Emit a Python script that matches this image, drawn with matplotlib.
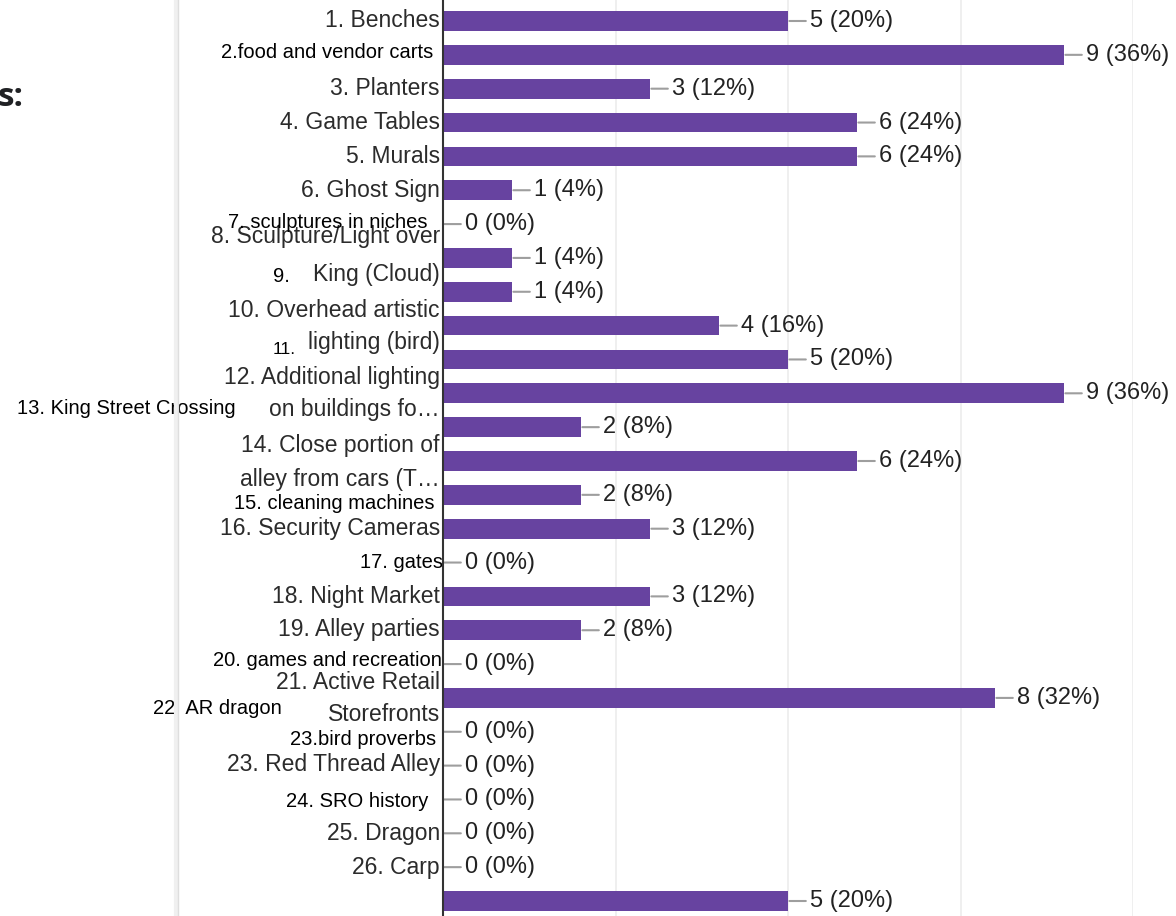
import matplotlib
matplotlib.use("Agg")
import matplotlib.pyplot as plt
from matplotlib.lines import Line2D
from matplotlib.transforms import blended_transform_factory

plt.rcParams['font.family'] = ['Liberation Sans', 'DejaVu Sans']

# responses per option (27 bars, top to bottom)
counts = [5, 9, 3, 6, 6, 1, 0, 1, 1, 4, 5, 9, 2, 6, 2, 3, 0, 3, 2, 0, 8, 0, 0, 0, 0, 0, 5]
percents = [20, 36, 12, 24, 24, 4, 0, 4, 4, 16, 20, 36, 8, 24, 8, 12, 0, 12, 8, 0, 32, 0, 0, 0, 0, 0, 20]

# axis labels drawn by the form chart (wrapped, so they drift from the bars)
chart_labels = ["1. Benches", "3. Planters", "4. Game Tables", "5. Murals", "6. Ghost Sign",
                "8. Sculpture/Light over", "King (Cloud)", "10. Overhead artistic",
                "lighting (bird)", "12. Additional lighting", "on buildings fo\u2026",
                "14. Close portion of", "alley from cars (T\u2026", "16. Security Cameras",
                "18. Night Market", "19. Alley parties", "21. Active Retail", "Storefronts",
                "23. Red Thread Alley", "25. Dragon", "26. Carp"]
chart_label_rows = [0, 2, 3, 4, 5, 6.38, 7.5, 8.54, 9.51, 10.52, 11.49, 12.53, 13.56,
                    15.0, 17.0, 17.99, 19.53, 20.5, 21.98, 24.0, 25.02]

# labels pasted over the chart afterwards
note_labels = ["2.food and vendor carts", "7. sculptures in niches", "15. cleaning machines",
               "17. gates", "20. games and recreation", "23.bird proverbs", "24. SRO history"]
note_rows = [0.92, 5.94, 14.27, 16.01, 18.9, 21.24, 23.07]
note_right_px = [433, 428, 435, 443, 442, 436, 428]

note_left_labels = ["9.", "11.", "13. King Street Crossing", "22. AR dragon"]
note_left_rows = [7.56, 9.7, 11.46, 20.3]
note_left_px = [273, 273, 17, 153]

W, H = 1176, 916
fig = plt.figure(figsize=(W / 100, H / 100), dpi=100)
fig.patch.set_facecolor('white')

# card edge on the left
fig.add_artist(Line2D([176 / W, 176 / W], [0, 1], color='#f0f0f0', lw=3))
fig.add_artist(Line2D([178 / W, 178 / W], [0, 1], color='#dedede', lw=1))
fig.text(-3 / W, 1 - 97 / H, "s:", fontsize=24, fontweight='bold', color='#202124',
         ha='left', va='center', family=['Open Sans', 'DejaVu Sans'])

ax = fig.add_axes([443 / W, 0, (1133 - 443) / W, 1])
ax.set_xlim(0, 10)
ax.set_ylim(26 + 15 / 33.85, -21 / 33.85)
for g in [2.5, 5, 7.5, 10]:
    ax.axvline(g, color='#ececec', lw=1.2, zorder=0)

rows = list(range(len(counts)))
ax.barh(rows, counts, height=0.58, color='#6743a0', zorder=2)

for s in ['top', 'right', 'bottom']:
    ax.spines[s].set_visible(False)
ax.spines['left'].set_color('#333333')
ax.spines['left'].set_linewidth(1.5)
ax.spines['left'].set_zorder(3)
ax.set_xticks([])
ax.set_yticks([])

for i, (c, p) in enumerate(zip(counts, percents)):
    ax.annotate(f"{c} ({p}%)", xy=(c, i), xytext=(22, 0), textcoords='offset pixels',
                ha='left', va='center', fontsize=17, color='#222222',
                arrowprops=dict(arrowstyle='-', color='#9e9e9e', lw=1.5,
                                shrinkA=1, shrinkB=1))

for lab, r in zip(chart_labels, chart_label_rows):
    ax.text(-0.045, r, lab, ha='right', va='center', fontsize=16.5, color='#2b2b2b',
            clip_on=False)

tr = blended_transform_factory(fig.transFigure, ax.transData)
for lab, r, px in zip(note_labels, note_rows, note_right_px):
    ax.text(px / W, r, lab, transform=tr, ha='right', va='center', fontsize=14.5,
            color='black', clip_on=False)
for lab, r, px in zip(note_left_labels, note_left_rows, note_left_px):
    size = 12.5 if lab == "11." else 14.5
    ax.text(px / W, r, lab, transform=tr, ha='left', va='center', fontsize=size,
            color='black', clip_on=False)

fig.savefig("out.png", dpi=100, facecolor='white')
